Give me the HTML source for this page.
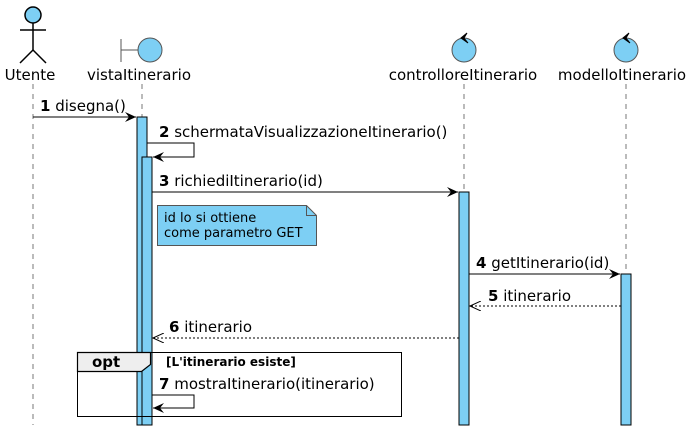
<!DOCTYPE html>
<html><head><meta charset="utf-8"><style>
html,body{margin:0;padding:0;background:#fff}
svg{display:block}
text{font-family:"DejaVu Sans","Liberation Sans",sans-serif}
</style></head><body>
<svg width="693" height="439" viewBox="0 0 693 439" xmlns="http://www.w3.org/2000/svg">
<defs>
<marker id="a" viewBox="0 0 12 10" refX="11" refY="5" markerWidth="12" markerHeight="10" markerUnits="userSpaceOnUse" orient="auto"><path d="M0,0 L11,5 L0,10 L4,5 Z" fill="#000"/></marker>
<marker id="o" viewBox="0 0 12 10" refX="11" refY="5" markerWidth="12" markerHeight="10" markerUnits="userSpaceOnUse" orient="auto"><path d="M0,0 L11,5 L0,10" fill="none" stroke="#000"/></marker>
</defs>
<g stroke="#777" stroke-dasharray="5,5" stroke-width="1">
<line x1="33" y1="84" x2="33" y2="425"/>
<line x1="142" y1="84" x2="142" y2="425"/>
<line x1="464" y1="84" x2="464" y2="425"/>
<line x1="626" y1="84" x2="626" y2="425"/>
</g>
<g stroke="#000" stroke-width="1.5" fill="none">
<circle cx="33" cy="15" r="8" fill="#7dcff4"/>
<line x1="33" y1="23" x2="33" y2="50"/>
<line x1="20" y1="30" x2="46" y2="30"/>
<line x1="33" y1="50" x2="20" y2="63"/>
<line x1="33" y1="50" x2="46" y2="63"/>
</g>
<g stroke="#555" stroke-width="1">
<line x1="121" y1="39" x2="121" y2="62"/>
<line x1="121" y1="50" x2="138" y2="50"/>
<circle cx="150" cy="50" r="12" fill="#7dcff4"/>
</g>
<g stroke="#555" stroke-width="1" fill="#7dcff4">
<circle cx="464" cy="50" r="12"/>
<circle cx="626" cy="50" r="12"/>
</g>
<path d="M467,33 L461,38 L468,43 L464,38 Z" fill="#000" stroke="#000"/>
<path d="M629,33 L623,38 L630,43 L626,38 Z" fill="#000" stroke="#000"/>
<g font-size="15" fill="#000" text-anchor="middle">
<text x="30" y="80">Utente</text>
<text x="139" y="80">vistaItinerario</text>
<text x="463" y="80">controlloreItinerario</text>
<text x="622" y="80">modelloItinerario</text>
</g>
<g fill="#7dcff4" stroke="#000" stroke-width="1">
<rect x="137" y="117" width="10" height="308"/>
<rect x="142" y="157" width="10" height="268"/>
<rect x="459" y="192" width="10" height="233"/>
<rect x="621" y="274" width="10" height="151"/>
</g>
<g stroke="#000" stroke-width="1" fill="none">
<line x1="33" y1="117" x2="136" y2="117" marker-end="url(#a)"/>
<polyline points="147,143 194,143 194,157 153,157" marker-end="url(#a)"/>
<line x1="152" y1="192" x2="458" y2="192" marker-end="url(#a)"/>
<line x1="469" y1="274" x2="620" y2="274" marker-end="url(#a)"/>
<line x1="621" y1="306" x2="470" y2="306" stroke-dasharray="2,2" marker-end="url(#o)"/>
<line x1="459" y1="338" x2="153" y2="338" stroke-dasharray="2,2" marker-end="url(#o)"/>
<polyline points="152,395 194,395 194,408 153,408" marker-end="url(#a)"/>
</g>
<g font-size="15" fill="#000">
<text x="40" y="111"><tspan font-weight="bold">1</tspan> disegna()</text>
<text x="159" y="137"><tspan font-weight="bold">2</tspan> schermataVisualizzazioneItinerario()</text>
<text x="159" y="186"><tspan font-weight="bold">3</tspan> richiediItinerario(id)</text>
<text x="476" y="268"><tspan font-weight="bold">4</tspan> getItinerario(id)</text>
<text x="488" y="301"><tspan font-weight="bold">5</tspan> itinerario</text>
<text x="169" y="332"><tspan font-weight="bold">6</tspan> itinerario</text>
<text x="159" y="389"><tspan font-weight="bold">7</tspan> mostraItinerario(itinerario)</text>
</g>
<path d="M157.5,205.5 L306.5,205.5 L316.5,215.5 L316.5,245.5 L157.5,245.5 Z" fill="#7dcff4" stroke="#555"/>
<path d="M306.5,205.5 L306.5,215.5 L316.5,215.5" fill="none" stroke="#555"/>
<text x="164" y="222" font-size="13">id lo si ottiene</text>
<text x="164" y="237" font-size="13">come parametro GET</text>
<rect x="77.5" y="352.5" width="324" height="64" fill="none" stroke="#000" stroke-width="1"/>
<path d="M77.5,352.5 L150.5,352.5 L150.5,364.5 L141.5,371.5 L77.5,371.5 Z" fill="#eee" stroke="#000" stroke-width="1.2"/>
<text x="92" y="367" font-size="15" font-weight="bold">opt</text>
<text x="166" y="366" font-size="12" font-weight="bold">[L'itinerario esiste]</text>
</svg>
</body></html>
